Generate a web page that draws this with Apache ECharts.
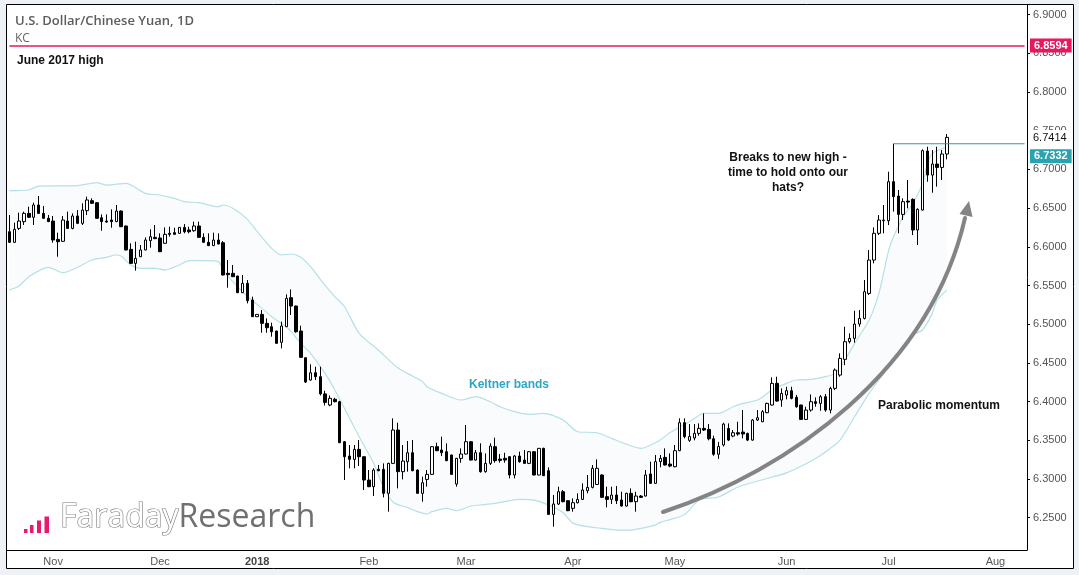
<!DOCTYPE html>
<html><head><meta charset="utf-8">
<script src="https://cdn.jsdelivr.net/npm/echarts@6/dist/echarts.min.js"></script>
<style>html,body{margin:0;padding:0;background:#eef1f5;} #c{width:1079px;height:575px;}</style>
</head><body><div id="c"></div>
<script>
// ---------- DATA ----------
const firstDate = '2017-10-19';
const lastAxisDate = '2018-08-09';
const holidays = ['2017-12-25'];
const priceTicks = [6.25,6.30,6.35,6.40,6.45,6.50,6.55,6.60,6.65,6.70,6.75,6.80,6.85,6.90];

const opens = [
6.6195,6.6058,6.6238,6.6325,6.6432,6.6381,6.6540,6.6432,6.6368,6.6333,
6.6096,6.6071,6.6333,6.6238,6.6398,6.6303,6.6467,6.6596,6.6570,6.6376,
6.6333,6.6346,6.6325,6.6462,6.6269,6.5967,6.5786,6.5872,6.5959,6.6079,
6.6122,6.6114,6.6045,6.6174,6.6183,6.6174,6.6251,6.6217,6.6208,6.6269,
6.6122,6.6058,6.6015,6.6088,6.6053,6.5657,6.5657,6.5623,6.5407,6.5528,
6.5313,6.5097,6.5127,6.5011,6.4968,6.4912,6.4766,6.4968,6.5343,6.5235,
6.4912,6.4567,6.4279,6.4373,6.4322,6.4100,6.3956,6.4030,6.3999,6.3482,
6.3297,6.3254,6.3383,6.3288,6.2987,6.2901,6.3125,6.3125,6.2815,6.3202,
6.3633,6.3095,6.3224,6.3340,6.3116,6.2815,6.2995,6.3060,6.3418,6.3375,
6.3353,6.3310,6.2935,6.3267,6.3323,6.3482,6.3245,6.3340,6.3095,6.3202,
6.3418,6.3258,6.3267,6.3288,6.3052,6.3297,6.3245,6.3202,6.3353,6.3052,
6.3396,6.3108,6.2543,6.2677,6.2836,6.2720,6.2621,6.2694,6.2737,6.2849,
6.2892,6.2930,6.3052,6.2772,6.2737,6.2793,6.2729,6.2651,6.2815,6.2707,
6.2780,6.2780,6.3065,6.2944,6.3224,6.3280,6.3193,6.3159,6.3366,6.3728,
6.3500,6.3530,6.3590,6.3654,6.3641,6.3520,6.3320,6.3440,6.3654,6.3555,
6.3598,6.3607,6.3589,6.3503,6.3762,6.3740,6.3857,6.3956,6.4236,6.4020,
6.4085,6.4141,6.4055,6.3956,6.3770,6.3891,6.3999,6.3977,6.4063,6.3891,
6.4171,6.4343,6.4546,6.4774,6.4817,6.5002,6.5075,6.5398,6.5829,6.6174,
6.6337,6.6337,6.6841,6.6656,6.6419,6.6591,6.6613,6.6217,6.6475,6.7237,
6.6927,6.7069,6.7026,6.7199];
const highs = [
6.6411,6.6312,6.6441,6.6454,6.6518,6.6570,6.6656,6.6527,6.6411,6.6398,
6.6183,6.6398,6.6454,6.6432,6.6475,6.6562,6.6648,6.6626,6.6575,6.6419,
6.6419,6.6484,6.6540,6.6470,6.6275,6.6045,6.6066,6.6023,6.6122,6.6226,
6.6282,6.6174,6.6251,6.6260,6.6247,6.6255,6.6294,6.6260,6.6325,6.6325,
6.6174,6.6174,6.6183,6.6174,6.6075,6.5829,6.5765,6.5625,6.5636,6.5571,
6.5356,6.5130,6.5183,6.5076,6.5020,6.4915,6.5033,6.5386,6.5450,6.5240,
6.4981,6.4570,6.4482,6.4451,6.4451,6.4140,6.4080,6.4050,6.4010,6.3490,
6.3439,6.3439,6.3504,6.3295,6.3116,6.3138,6.3181,6.3202,6.3211,6.3784,
6.3728,6.3439,6.3491,6.3504,6.3125,6.3030,6.3116,6.3425,6.3469,6.3547,
6.3461,6.3315,6.3272,6.3396,6.3698,6.3490,6.3375,6.3461,6.3331,6.3461,
6.3534,6.3323,6.3340,6.3297,6.3310,6.3353,6.3375,6.3361,6.3360,6.3400,
6.3405,6.3151,6.2793,6.2901,6.2858,6.2725,6.2750,6.2815,6.2944,6.3052,
6.3181,6.3254,6.3060,6.2901,6.2901,6.2909,6.2836,6.2823,6.2879,6.2836,
6.2793,6.3116,6.3224,6.3310,6.3310,6.3396,6.3331,6.3439,6.3784,6.3784,
6.3710,6.3710,6.3719,6.3848,6.3710,6.3560,6.3480,6.3727,6.3719,6.3633,
6.3740,6.3891,6.3600,6.3774,6.3891,6.3891,6.3986,6.4313,6.4322,6.4171,
6.4192,6.4192,6.4085,6.3960,6.3934,6.4093,6.4055,6.4085,6.4098,6.4192,
6.4429,6.4623,6.4968,6.4882,6.5174,6.5183,6.5571,6.5958,6.6251,6.6410,
6.6540,6.6970,6.7332,6.6734,6.6626,6.6863,6.6626,6.6497,6.7259,6.7293,
6.7250,6.7293,6.7250,6.7457];
const lows = [
6.6050,6.6050,6.6217,6.6282,6.6375,6.6282,6.6425,6.6363,6.6320,6.6053,
6.5872,6.6065,6.6232,6.6226,6.6294,6.6282,6.6411,6.6553,6.6363,6.6208,
6.6312,6.6247,6.6320,6.6255,6.5955,6.5780,6.5692,6.5868,6.5955,6.5989,
6.6100,6.5932,6.6040,6.6131,6.6157,6.6170,6.6174,6.6174,6.6195,6.6118,
6.6053,6.6010,6.6010,6.6032,6.5630,6.5472,6.5610,6.5403,6.5403,6.5269,
6.5093,6.5093,6.4890,6.4890,6.4839,6.4750,6.4688,6.4965,6.5119,6.4890,
6.4568,6.4240,6.4270,6.4279,6.4080,6.3950,6.3940,6.3990,6.3465,6.2987,
6.3138,6.3138,6.3168,6.2858,6.2895,6.2780,6.3100,6.2763,6.2578,6.3195,
6.2879,6.2995,6.3095,6.3100,6.2810,6.2707,6.2901,6.3055,6.3360,6.3297,
6.3232,6.3055,6.2901,6.3211,6.3318,6.3240,6.3237,6.3082,6.3082,6.3181,
6.3211,6.3211,6.3211,6.3008,6.3008,6.3211,6.3200,6.3193,6.3048,6.3048,
6.3040,6.2535,6.2384,6.2664,6.2700,6.2585,6.2578,6.2685,6.2728,6.2815,
6.2879,6.2922,6.2755,6.2634,6.2677,6.2677,6.2645,6.2645,6.2700,6.2578,
6.2755,6.2775,6.2940,6.2940,6.3151,6.3175,6.3151,6.3151,6.3360,6.3525,
6.3480,6.3500,6.3560,6.3620,6.3500,6.3300,6.3260,6.3420,6.3490,6.3540,
6.3560,6.3525,6.3490,6.3495,6.3750,6.3735,6.3850,6.3950,6.4000,6.3934,
6.4029,6.4029,6.3921,6.3765,6.3762,6.3870,6.3934,6.3882,6.3870,6.3848,
6.4149,6.4322,6.4472,6.4752,6.4761,6.4968,6.5062,6.5377,6.5786,6.6152,
6.6174,6.6281,6.6454,6.6174,6.6346,6.6497,6.6152,6.6023,6.6470,6.6841,
6.6699,6.6777,6.6863,6.7130];
const closes = [
6.6058,6.6226,6.6333,6.6432,6.6381,6.6540,6.6432,6.6368,6.6325,6.6088,
6.6066,6.6346,6.6238,6.6398,6.6303,6.6475,6.6605,6.6562,6.6368,6.6325,
6.6320,6.6325,6.6462,6.6260,6.5959,6.5786,6.5851,6.5959,6.6088,6.6131,
6.6105,6.5937,6.6161,6.6161,6.6161,6.6251,6.6195,6.6195,6.6269,6.6122,
6.6058,6.6015,6.6088,6.6036,6.5636,6.5640,6.5614,6.5407,6.5528,6.5304,
6.5097,6.5127,6.5011,6.4955,6.4903,6.4753,6.4977,6.5334,6.5235,6.4903,
6.4572,6.4253,6.4373,6.4322,6.4100,6.3990,6.4043,6.3999,6.3469,6.3288,
6.3254,6.3383,6.3288,6.2987,6.2901,6.3116,6.3108,6.2815,6.3202,6.3633,
6.3095,6.3232,6.3340,6.3108,6.2815,6.2952,6.3060,6.3418,6.3366,6.3340,
6.3237,6.3060,6.3267,6.3323,6.3482,6.3245,6.3340,6.3095,6.3202,6.3426,
6.3237,6.3241,6.3245,6.3052,6.3297,6.3224,6.3202,6.3353,6.3052,6.3396,
6.3043,6.2543,6.2677,6.2836,6.2707,6.2591,6.2694,6.2737,6.2858,6.2892,
6.3138,6.3138,6.2763,6.2737,6.2793,6.2720,6.2651,6.2815,6.2707,6.2780,
6.2763,6.3052,6.2944,6.3224,6.3267,6.3181,6.3168,6.3366,6.3728,6.3547,
6.3550,6.3590,6.3654,6.3633,6.3520,6.3320,6.3420,6.3710,6.3503,6.3598,
6.3581,6.3581,6.3503,6.3762,6.3792,6.3870,6.3977,6.4236,6.4007,6.4106,
6.4141,6.4042,6.3934,6.3770,6.3891,6.3999,6.3977,6.4063,6.3891,6.4171,
6.4408,6.4559,6.4774,6.4817,6.5002,6.5075,6.5420,6.5829,6.6174,6.6346,
6.6346,6.6841,6.6647,6.6419,6.6583,6.6578,6.6217,6.6484,6.7242,6.6927,
6.7069,6.7026,6.7199,6.7414];

// Keltner bands read at sample candles: [candle index, price]
const upperBand = [[0,6.6725],[4,6.6734],[6,6.6785],[14,6.6790],[18,6.6829],[20,6.6798],[24,6.6820],[28,6.6691],[31,6.6669],[34,6.6626],[36,6.6583],[39,6.6570],[43,6.6518],[44,6.6540],[46,6.6497],[49,6.6355],[51,6.6200],[54,6.5980],[56,6.5894],[58,6.5907],[60,6.5864],[62,6.5743],[64,6.5580],[67,6.5356],[69,6.5226],[72,6.4882],[76,6.4664],[80,6.4434],[83,6.4330],[85,6.4260],[86,6.4193],[89,6.4107],[93,6.4021],[96,6.4064],[99,6.3999],[101,6.3934],[104,6.3870],[107,6.3835],[110,6.3848],[114,6.3762],[117,6.3611],[121,6.3598],[124,6.3525],[127,6.3450],[130,6.3396],[132,6.3439],[134,6.3504],[136,6.3600],[140,6.3740],[143,6.3848],[146,6.3848],[149,6.3934],[151,6.3977],[154,6.4020],[157,6.4149],[160,6.4236],[162,6.4279],[165,6.4287],[168,6.4322],[170,6.4365],[172,6.4537],[174,6.4752],[177,6.5054],[179,6.5398],[181,6.5950],[182,6.6131],[183,6.6260],[184,6.6389],[186,6.6561],[188,6.6820],[189,6.7078],[190,6.7207],[193,6.7293]];
const lowerBand = [[0,6.5442],[2,6.5493],[4,6.5614],[8,6.5735],[11,6.5666],[14,6.5735],[17,6.5829],[20,6.5864],[22,6.5894],[23,6.5881],[25,6.5765],[27,6.5722],[30,6.5722],[32,6.5700],[35,6.5765],[37,6.5821],[40,6.5821],[43,6.5808],[44,6.5700],[46,6.5549],[49,6.5356],[52,6.5205],[54,6.5097],[57,6.4968],[58,6.4903],[60,6.4753],[62,6.4623],[64,6.4451],[65,6.4365],[67,6.4150],[72,6.3547],[75,6.3202],[77,6.2900],[79,6.2700],[82,6.2630],[84,6.2578],[86,6.2548],[87,6.2578],[90,6.2621],[92,6.2591],[95,6.2651],[97,6.2664],[100,6.2685],[103,6.2720],[105,6.2737],[108,6.2728],[111,6.2664],[114,6.2565],[116,6.2430],[119,6.2384],[122,6.2362],[125,6.2341],[128,6.2341],[130,6.2362],[133,6.2405],[134,6.2440],[136,6.2475],[139,6.2540],[142,6.2729],[146,6.2768],[150,6.2897],[155,6.2990],[160,6.3080],[165,6.3230],[168,6.3350],[171,6.3503],[174,6.3805],[177,6.4106],[180,6.4365],[183,6.4623],[186,6.4860],[188,6.4925],[190,6.5140],[191,6.5312],[193,6.5441]];

const june2017High = 6.8594;
const breakoutLevel = 6.7332;
const breakoutCandle = 182;
const lastPrice = 6.7414;

// ---------- BUILD ----------
function buildDates(a, b, skip) {
  const out = [];
  const d = new Date(a + 'T00:00:00Z'), end = new Date(b + 'T00:00:00Z');
  while (d <= end) {
    const wd = d.getUTCDay(), s = d.toISOString().slice(0, 10);
    if (wd !== 0 && wd !== 6 && skip.indexOf(s) < 0) out.push(s);
    d.setUTCDate(d.getUTCDate() + 1);
  }
  return out;
}
const dates = buildDates(firstDate, lastAxisDate, holidays);
const monthStart = new Set();
dates.forEach((s, i) => { if (i > 0 && s.slice(5, 7) !== dates[i - 1].slice(5, 7)) monthStart.add(i); });
const MN = ['Jan','Feb','Mar','Apr','May','Jun','Jul','Aug','Sep','Oct','Nov','Dec'];
const candles = opens.map((o, i) => [o, closes[i], lows[i], highs[i]]);
const lastCat = dates[dates.length - 1];

const FONT = '"Liberation Sans", Arial, sans-serif';
const chart = echarts.init(document.getElementById('c'));

const LOGO_FONT = '32px "Open Sans"';
const mctx = document.createElement('canvas').getContext('2d');
mctx.font = LOGO_FONT;
const farW = mctx.measureText('Faraday').width;

const MAGENTA = '#e8175f', TEAL = '#2aa3b0', TEAL_LINE = '#3596ab';
const bandLine = { color: '#b5e0e8', width: 1.2 };
const labelBase = { show: true, position: 'end', fontSize: 11, fontFamily: FONT };

function hLine(name, color, pts, label, width) {
  return {
    type: 'line', name: name, data: pts, color: color, symbol: 'none', zlevel: 1, z: 6, silent: true,
    lineStyle: { color: color, width: width, type: 'solid' },
    markLine: label ? { silent: true, symbol: ['none', 'none'], animation: false,
      lineStyle: { color: 'rgba(0,0,0,0)', width: 0 }, label: label,
      data: [{ yAxis: pts[0][1] }] } : undefined
  };
}

chart.setOption({
  animation: false,
  backgroundColor: '#eef1f5',
  grid: { left: 7, right: 52, top: 5, bottom: 25 },
  xAxis: {
    type: 'category', data: dates, boundaryGap: true, z: 5,
    axisLine: { lineStyle: { color: '#000', width: 1 } },
    axisTick: { alignWithLabel: true, interval: (i) => monthStart.has(i), length: 4, lineStyle: { color: '#000' } },
    axisLabel: {
      interval: (i) => monthStart.has(i), color: '#555', fontSize: 11, fontFamily: FONT, margin: 6,
      formatter: (v) => { const m = +v.slice(5, 7); return m === 1 ? '{b|' + v.slice(0, 4) + '}' : MN[m - 1]; },
      rich: { b: { fontWeight: 'bold', color: '#444', fontSize: 11, fontFamily: FONT } }
    },
    splitLine: { show: false }
  },
  yAxis: {
    type: 'value', position: 'right', min: 6.2083, max: 6.9124, z: 1,
    axisLine: { show: true, lineStyle: { color: '#000' } },
    axisTick: { show: true, customValues: priceTicks, length: 3, lineStyle: { color: '#000' } },
    axisLabel: { customValues: priceTicks, formatter: (v) => v.toFixed(4), color: '#555', fontSize: 11, fontFamily: FONT, margin: 6 },
    splitLine: { show: false }
  },
  series: [
    { type: 'line', data: upperBand, symbol: 'none', smooth: 0.25, lineStyle: bandLine,
      areaStyle: { color: '#f9fbfc', opacity: 1, origin: 'start' }, silent: true, z: 2 },
    { type: 'line', data: lowerBand, symbol: 'none', smooth: 0.25, lineStyle: bandLine,
      areaStyle: { color: '#ffffff', opacity: 1, origin: 'start' }, silent: true, z: 2 },
    { type: 'candlestick', data: candles, barWidth: 3, z: 3,
      itemStyle: { color: '#ffffff', color0: '#000000', borderColor: '#000000', borderColor0: '#000000', borderWidth: 1 } },
    hLine('june', MAGENTA, [[dates[0], june2017High], [lastCat, june2017High]],
      Object.assign({}, labelBase, { distance: 3, formatter: june2017High.toFixed(4), backgroundColor: MAGENTA, color: '#fff', fontWeight: 'bold', padding: [2, 4, 1, 4] }), 1.4),
    hLine('breakout', TEAL_LINE, [[dates[breakoutCandle], breakoutLevel], [lastCat, breakoutLevel]],
      Object.assign({}, labelBase, { distance: 3, offset: [0, 10], formatter: breakoutLevel.toFixed(4), backgroundColor: TEAL, color: '#fff', fontWeight: 'bold', padding: [2, 4, 1, 4] }), 1.1),
    { type: 'line', name: 'last', data: [], symbol: 'none', zlevel: 1, z: 7, silent: true,
      markLine: { silent: true, symbol: ['none', 'none'], animation: false,
        lineStyle: { color: 'rgba(0,0,0,0)', width: 0 },
        label: Object.assign({}, labelBase, { distance: 1, formatter: lastPrice.toFixed(4), backgroundColor: '#fff', color: '#111', padding: [4, 4, 2, 5] }),
        data: [{ yAxis: lastPrice }] } }
  ],
  graphic: [
    { type: 'rect', z: -10, silent: true, shape: { x: 6.5, y: 4.5, width: 1067, height: 564 }, style: { fill: '#ffffff', stroke: null } },
    { type: 'rect', z: 200, zlevel: 2, silent: true, shape: { x: 6.5, y: 4.5, width: 1067, height: 564 }, style: { fill: null, stroke: '#000', lineWidth: 1 } },
    { type: 'text', z: 100, x: 15, y: 21, style: { text: 'U.S. Dollar/Chinese Yuan, 1D', font: '600 13px "Open Sans"', fill: '#5c5c5c', textVerticalAlign: 'middle' } },
    { type: 'text', z: 100, x: 15, y: 39, style: { text: 'KC', font: '12px "Open Sans"', fill: '#666', textVerticalAlign: 'middle' } },
    { type: 'text', z: 100, x: 17, y: 61, style: { text: 'June 2017 high', font: 'bold 12px "Liberation Sans"', fill: '#111', textVerticalAlign: 'middle' } },
    { type: 'text', z: 100, x: 509, y: 385, style: { text: 'Keltner bands', font: 'bold 12px "Liberation Sans"', fill: '#2ea6c6', textAlign: 'center', textVerticalAlign: 'middle' } },
    { type: 'text', z: 100, x: 788, y: 150, style: { text: 'Breaks to new high -\ntime to hold onto our\nhats?', font: 'bold 12px "Liberation Sans"', lineHeight: 15, fill: '#111', textAlign: 'center', textVerticalAlign: 'top' } },
    { type: 'text', z: 100, x: 878, y: 406, style: { text: 'Parabolic momentum', font: 'bold 12px "Liberation Sans"', fill: '#111', textVerticalAlign: 'middle' } },
    { type: 'bezierCurve', z: 100, silent: true, shape: { x1: 663, y1: 512, cpx1: 790, cpy1: 470, cpx2: 930, cpy2: 370, x2: 965, y2: 218 }, style: { stroke: '#848484', lineWidth: 4, fill: null, lineCap: 'round' } },
    { type: 'polygon', z: 100, silent: true, shape: { points: [[969, 201], [959.5, 214], [972.5, 217]] }, style: { fill: '#848484' } },
    { type: 'rect', z: 100, shape: { x: 24, y: 529, width: 3.5, height: 4 }, style: { fill: '#e8196e' } },
    { type: 'rect', z: 100, shape: { x: 30, y: 525, width: 3.5, height: 8 }, style: { fill: '#e8196e' } },
    { type: 'rect', z: 100, shape: { x: 37, y: 520.5, width: 4, height: 12.5 }, style: { fill: '#e8196e' } },
    { type: 'rect', z: 100, shape: { x: 44.5, y: 516.5, width: 4.5, height: 16.5 }, style: { fill: '#e8196e' } },
    { type: 'text', z: 100, x: 60, y: 534, style: { text: 'Faraday', font: LOGO_FONT, fill: '#ffffff', stroke: '#7a7a7a', lineWidth: 1.2, textVerticalAlign: 'bottom' } },
    { type: 'text', z: 100, x: 60 + farW, y: 534, style: { text: 'Research', font: LOGO_FONT, fill: '#707070', textVerticalAlign: 'bottom' } }
  ]
});
</script></body></html>
